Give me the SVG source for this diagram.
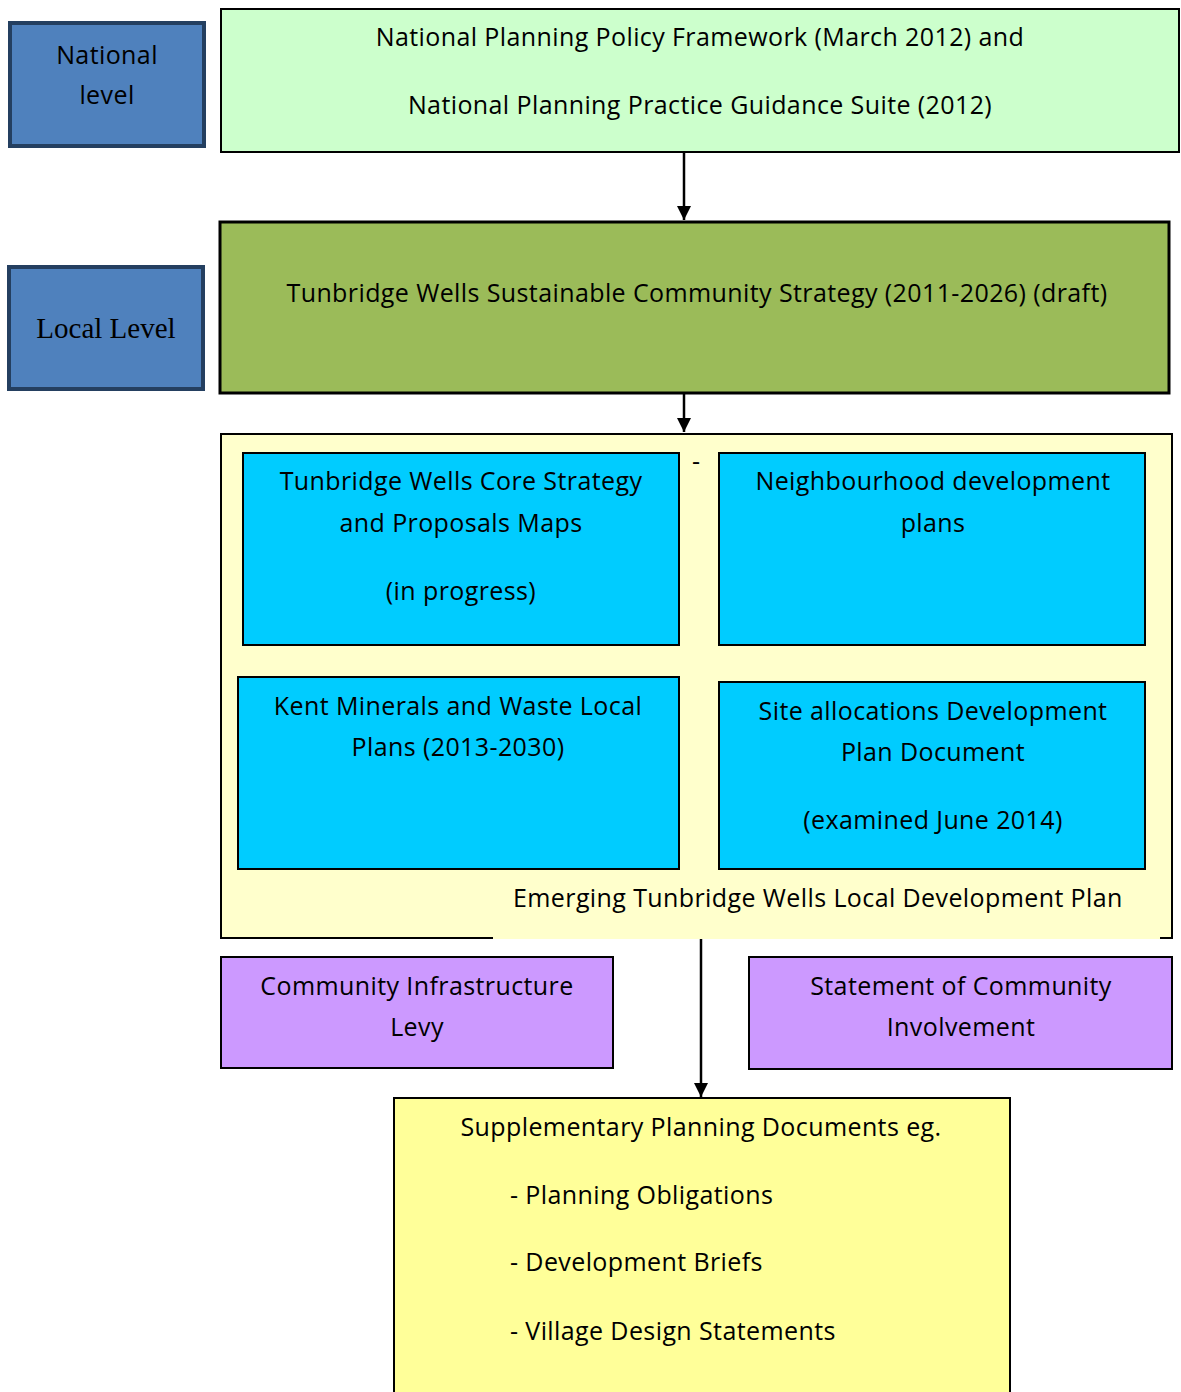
<svg xmlns="http://www.w3.org/2000/svg" width="1181" height="1392" viewBox="0 0 1181 1392">
<defs>
<marker id="ah" viewBox="0 0 10 10" refX="10" refY="5" markerWidth="16" markerHeight="14" markerUnits="userSpaceOnUse" orient="auto">
<path d="M0,0 L10,5 L0,10 z" fill="#000"/>
</marker>
</defs>
<style>
text{font-family:"Open Sans","Noto Sans",sans-serif;font-size:25px;letter-spacing:0.4px;fill:#000}
.c{text-anchor:middle}
.lvl{fill:#4F81BD;stroke:#243F60;stroke-width:4}
.b{stroke:#000;stroke-width:2}
.cy{fill:#00CCFF;stroke:#000;stroke-width:2}
.pu{fill:#CC99FF;stroke:#000;stroke-width:2}
.cn{stroke:#000;stroke-width:2.5;fill:none}
</style>
<rect width="1181" height="1392" fill="#fff"/>
<g id="national-level">
<rect class="lvl" x="10" y="23" width="194" height="123"/>
<text class="c" x="107" y="64">National</text>
<text class="c" x="107" y="104">level</text>
</g>
<g id="local-level">
<rect class="lvl" x="9" y="267" width="194" height="122"/>
<text class="c" x="106" y="338" style="font-family:'Liberation Serif',serif;font-size:29px;letter-spacing:0">Local Level</text>
</g>
<g id="nppf">
<rect class="b" x="221" y="9" width="958" height="143" fill="#CCFFCC"/>
<text class="c" x="700" y="46">National Planning Policy Framework (March 2012) and</text>
<text class="c" x="700" y="114">National Planning Practice Guidance Suite (2012)</text>
</g>
<g id="scs">
<rect x="220" y="222" width="949" height="171" fill="#9BBB59" stroke="#000" stroke-width="3"/>
<text class="c" x="697" y="302">Tunbridge Wells Sustainable Community Strategy (2011-2026) (draft)</text>
</g>
<g id="ldp">
<rect class="b" x="221" y="434" width="951" height="504" fill="#FFFFCC"/>
<text x="692" y="470">-</text>
</g>
<g id="core-strategy">
<rect class="cy" x="243" y="453" width="436" height="192"/>
<text class="c" x="461" y="490">Tunbridge Wells Core Strategy</text>
<text class="c" x="461" y="532">and Proposals Maps</text>
<text class="c" x="461" y="600">(in progress)</text>
</g>
<g id="neighbourhood">
<rect class="cy" x="719" y="453" width="426" height="192"/>
<text class="c" x="933" y="490">Neighbourhood development</text>
<text class="c" x="933" y="532">plans</text>
</g>
<g id="kent-minerals">
<rect class="cy" x="238" y="677" width="441" height="192"/>
<text class="c" x="458" y="715">Kent Minerals and Waste Local</text>
<text class="c" x="458" y="756">Plans (2013-2030)</text>
</g>
<g id="site-allocations">
<rect class="cy" x="719" y="682" width="426" height="187"/>
<text class="c" x="933" y="720">Site allocations Development</text>
<text class="c" x="933" y="761">Plan Document</text>
<text class="c" x="933" y="829">(examined June 2014)</text>
</g>
<g id="emerging-label">
<rect x="493" y="871" width="667" height="68" fill="#FFFFCC"/>
<text x="513" y="907">Emerging Tunbridge Wells Local Development Plan</text>
</g>
<g id="cil">
<rect class="pu" x="221" y="957" width="392" height="111"/>
<text class="c" x="417" y="995">Community Infrastructure</text>
<text class="c" x="417" y="1036">Levy</text>
</g>
<g id="sci">
<rect class="pu" x="749" y="957" width="423" height="112"/>
<text class="c" x="961" y="995">Statement of Community</text>
<text class="c" x="961" y="1036">Involvement</text>
</g>
<g id="spd">
<rect class="b" x="394" y="1098" width="616" height="300" fill="#FFFF99"/>
<text class="c" x="701" y="1136">Supplementary Planning Documents eg.</text>
<text x="510" y="1204">- Planning Obligations</text>
<text x="510" y="1271">- Development Briefs</text>
<text x="510" y="1340">- Village Design Statements</text>
</g>
<g id="connectors">
<line class="cn" x1="684" y1="152" x2="684" y2="220" marker-end="url(#ah)"/>
<line class="cn" x1="684" y1="393" x2="684" y2="432" marker-end="url(#ah)"/>
<line class="cn" x1="701" y1="939" x2="701" y2="1097" marker-end="url(#ah)"/>
</g>
</svg>
